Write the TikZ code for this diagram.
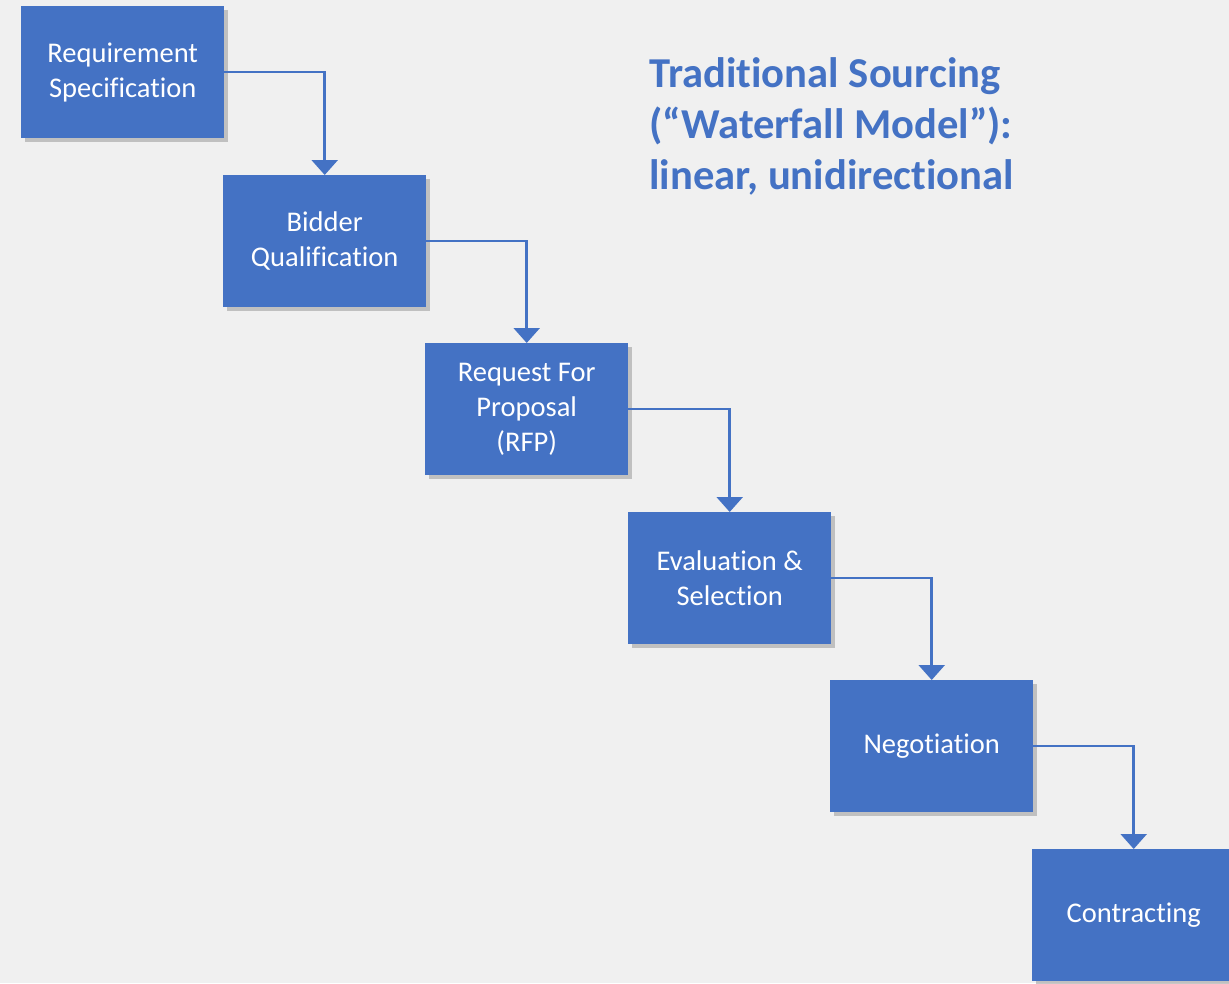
\documentclass[tikz,border=0pt]{standalone}
\usepackage{fontspec}
\setmainfont{Carlito}[Ligatures=NoCommon]
\usepackage{tikz}
\usetikzlibrary{arrows.meta,positioning,shadows}
\definecolor{BlueMain}{HTML}{4472C4}
\definecolor{PageGray}{HTML}{F0F0F0}

\begin{document}
\begin{tikzpicture}[
  x=1pt, y=-1pt,
  stage/.style={
    rectangle, fill=BlueMain, draw=none, anchor=north west,
    minimum width=203pt, minimum height=132pt, inner sep=2pt,
    align=center, text=white,
    font=\fontsize{28.5}{35}\selectfont,
    drop shadow={shadow xshift=4pt, shadow yshift=-4pt, fill=black!40, opacity=0.55}
  },
  arr/.style={-{Triangle[width=26pt,length=15pt]}, line width=2.5pt, BlueMain},
  heading/.style={
    anchor=north west, inner sep=0pt, align=left, text=BlueMain,
    font=\fontsize{42.6}{51}\selectfont\bfseries
  }
]

\fill[PageGray] (0,0) rectangle (1229,983);
\useasboundingbox (0,0) rectangle (1229,983);

% ---- Stages ----
\node[stage] (req)  at (21,6)     {Requirement\\Specification};
\node[stage] (bid)  at (223,175)  {Bidder\\Qualification};
\node[stage] (rfp)  at (425,343)  {Request For\\Proposal\\(RFP)};
\node[stage] (eval) at (628,512)  {Evaluation \&\\Selection};
\node[stage] (neg)  at (830,680)  {Negotiation};
\node[stage] (con)  at (1032,849) {Contracting};

\node[heading] (title) at (649,57) {Traditional Sourcing\\(“Waterfall Model”):\\linear, unidirectional};

% ---- Arrows ----
\draw[arr] (req.east)  -| (bid.north);
\draw[arr] (bid.east)  -| (rfp.north);
\draw[arr] (rfp.east)  -| (eval.north);
\draw[arr] (eval.east) -| (neg.north);
\draw[arr] (neg.east)  -| (con.north);

\end{tikzpicture}
\end{document}
